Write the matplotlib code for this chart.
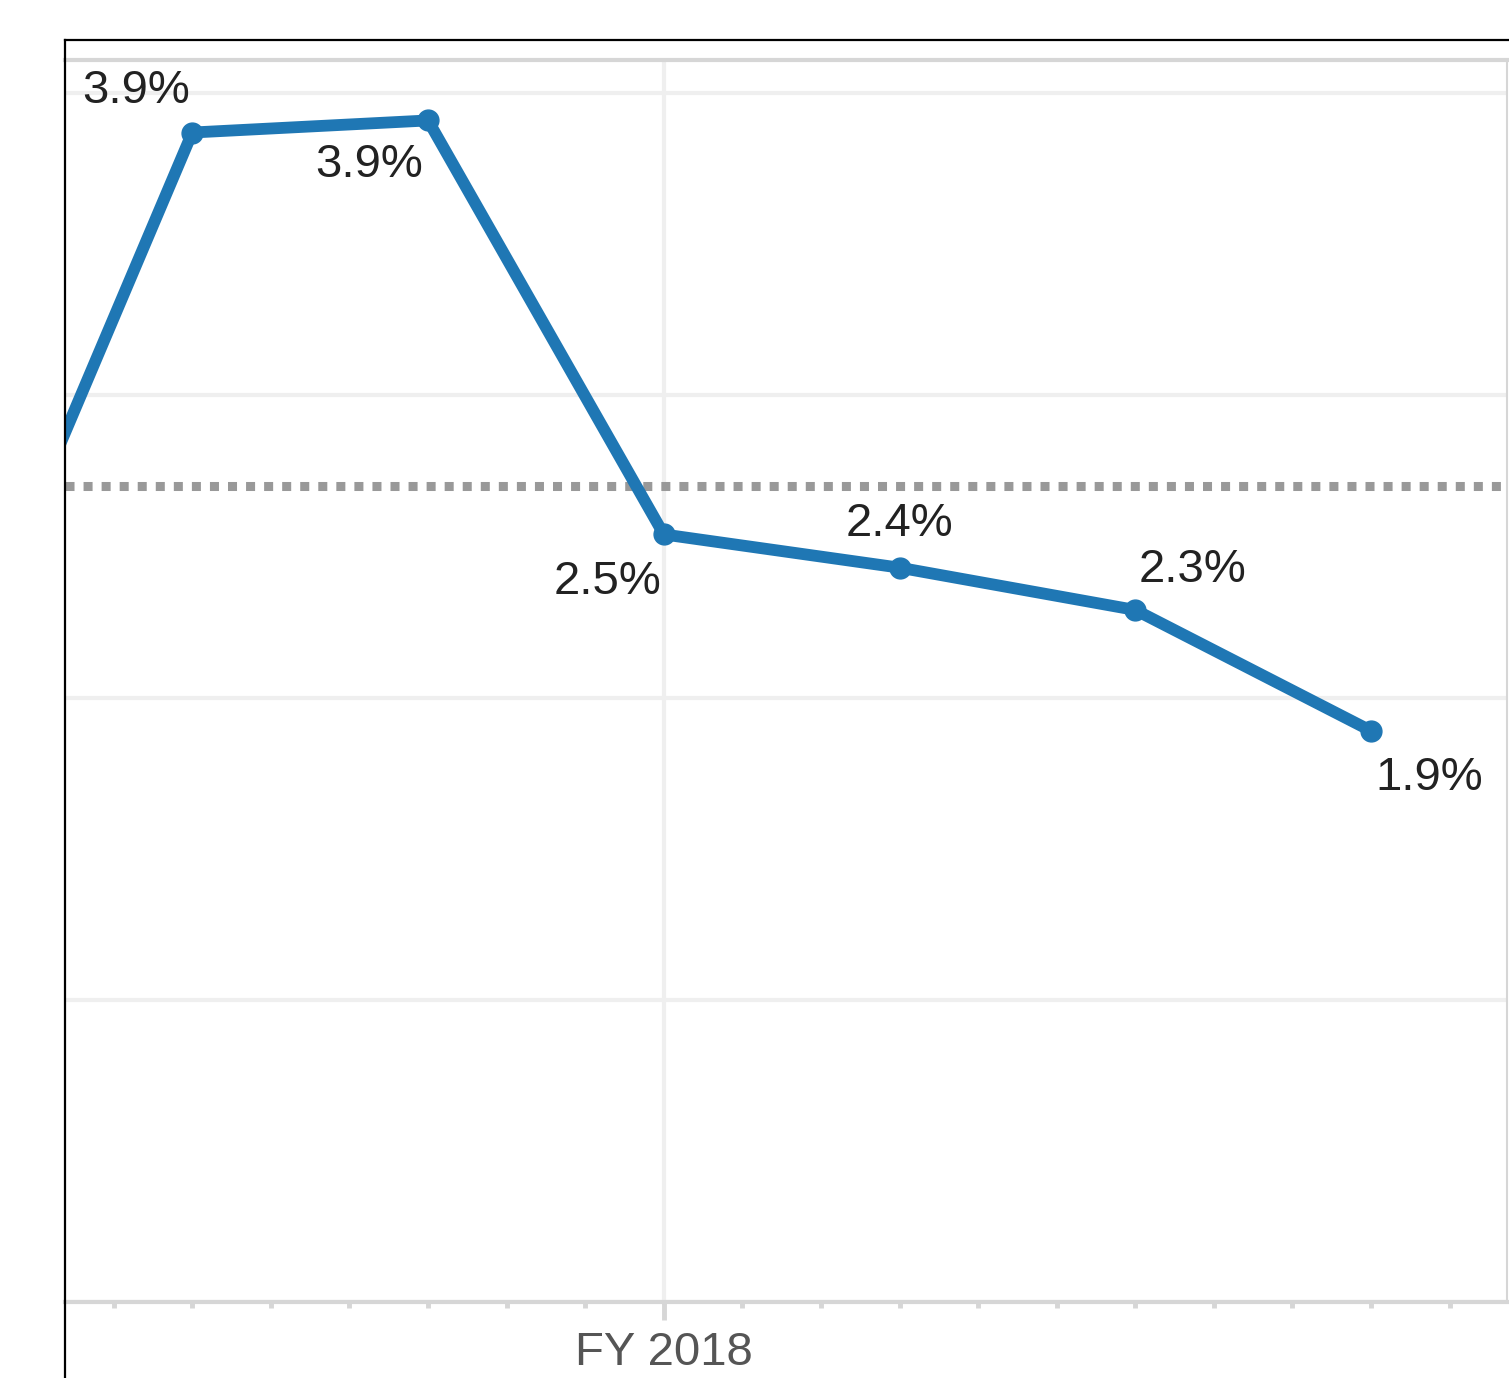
import matplotlib
matplotlib.use("Agg")
import matplotlib.pyplot as plt
from matplotlib.lines import Line2D
from matplotlib.ticker import FixedLocator

# months relative to the start of FY 2018, one point per quarter
months = [-9, -6, -3, 0, 3, 6, 9]
rates = [2.03, 3.87, 3.91, 2.54, 2.43, 2.29, 1.89]   # percent
target = 2.70                                        # dotted reference line
major_ticks = [0]
major_labels = ["FY 2018"]
minor_ticks = [m for m in range(-7, 11) if m != 0]

# label placement per point: (ha, dx px, dy px); None = no label
label_pos = [None, ("right", -2, 42), ("right", -5, -45), ("right", -2, -48),
             ("center", 0, 44), ("left", 3, 40), ("left", 4, -47)]

W, H, DPI = 1509, 1378, 100
BLUE = "#1f77b4"
GRID = "#efefef"
AXIS = "#d6d6d6"

plt.rcParams["font.family"] = ["Liberation Sans", "DejaVu Sans"]

fig = plt.figure(figsize=(W / DPI, H / DPI), dpi=DPI)
ax = fig.add_axes([65 / W, 1 - 1302 / H, (1507 - 65) / W, (1302 - 60) / H])

ax.set_xlim(-7.62, 10.73)
ax.set_ylim(0, 4.11)

# grid
ax.set_yticks([0, 1, 2, 3, 4])
ax.yaxis.grid(True, color=GRID, linewidth=3)
ax.tick_params(axis="y", left=False, labelleft=False)
ax.xaxis.set_major_locator(FixedLocator(major_ticks))
ax.set_xticklabels(major_labels)
ax.xaxis.set_minor_locator(FixedLocator(minor_ticks))
ax.xaxis.grid(True, which="major", color=GRID, linewidth=3)
ax.set_axisbelow(True)
ax.tick_params(axis="x", which="major", length=13, width=3.5, color=AXIS,
               labelsize=34, labelcolor="#555555", pad=8)
ax.tick_params(axis="x", which="minor", length=4, width=3.5, color=AXIS)

for side in ["top", "bottom"]:
    ax.spines[side].set_color(AXIS)
    ax.spines[side].set_linewidth(3)
ax.spines["right"].set_color(AXIS)
ax.spines["right"].set_linewidth(1.5)
ax.spines["left"].set_visible(False)

# reference line
ax.axhline(target, color="#999999", linewidth=6.5, linestyle=(0, (1, 1)),
           dash_capstyle="butt", zorder=2)

# series
ax.plot(months, rates, color=BLUE, linewidth=8.5, marker="o", markersize=15,
        solid_joinstyle="round", zorder=3, clip_on=True)

for m, r, pos in zip(months, rates, label_pos):
    if pos is None:
        continue
    ha, dx, dy = pos
    ax.annotate(f"{r:.1f}%", (m, r), xytext=(dx * 0.72, dy * 0.72),
                textcoords="offset points", ha=ha, va="center",
                fontsize=34, color="#222222", zorder=4)

# outer black frame (left and top)
fig.add_artist(Line2D([65 / W, 65 / W], [0, 1 - 40 / H], color="black",
                      linewidth=1.6, transform=fig.transFigure))
fig.add_artist(Line2D([65 / W, 1], [1 - 40 / H, 1 - 40 / H], color="black",
                      linewidth=1.6, transform=fig.transFigure))

fig.savefig("out.png", dpi=DPI)
